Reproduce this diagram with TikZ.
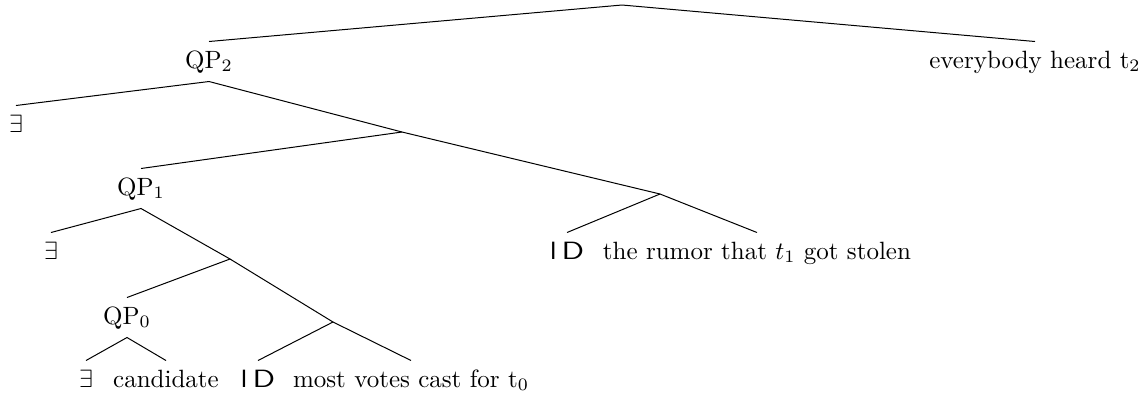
\documentclass[tikz,border=0pt]{standalone}
\usepackage{graphicx}
\newcommand{\idlabel}{\textsf{I\kern2pt\scalebox{1.25}[1]{D}}}
\begin{document}
\begin{tikzpicture}[x=0.40pt,y=-0.40pt,
  lab/.style={anchor=base,inner sep=3.5pt,text height=6.9pt,text depth=1.7pt,font=\fontsize{10}{12}\selectfont},
  br/.style={line width=0.4pt}]
\useasboundingbox (0,0) rectangle (1146,396);
% branch points
\coordinate (root) at (622,5);
\coordinate (n1) at (402,132);
\coordinate (n2) at (660,194);
\coordinate (n3) at (230,259);
\coordinate (n4) at (333,322);
% labels
\node[lab] (qp2) at (209,68) {QP$_2$};
\node[lab] (ev) at (1035,68) {everybody heard t$_2$};
\node[lab] (e1) at (16,132) {$\exists$};
\node[lab] (qp1) at (141,195) {QP$_1$};
\node[lab] (e2) at (51,259) {$\exists$};
\node[lab] (id1) at (567,259) {\idlabel};
\node[lab] (rum) at (757,259) {the rumor that $t_1$ got stolen};
\node[lab] (qp0) at (127,324) {QP$_0$};
\node[lab] (e3) at (86,387) {$\exists$};
\node[lab] (cand) at (166,387) {candidate};
\node[lab] (id0) at (258,387) {\idlabel};
\node[lab] (most) at (411,387) {most votes cast for t$_0$};
% edges
\draw[br] (qp2.north) -- (root) -- (ev.north);
\draw[br] (e1.north) -- (qp2.south) -- (n1);
\draw[br] (qp1.north) -- (n1) -- (n2);
\draw[br] (e2.north) -- (qp1.south) -- (n3);
\draw[br] (id1.north) -- (n2) -- (rum.north);
\draw[br] (qp0.north) -- (n3) -- (n4);
\draw[br] (e3.north) -- (qp0.south) -- (cand.north);
\draw[br] (id0.north) -- (n4) -- (most.north);
\end{tikzpicture}
\end{document}
